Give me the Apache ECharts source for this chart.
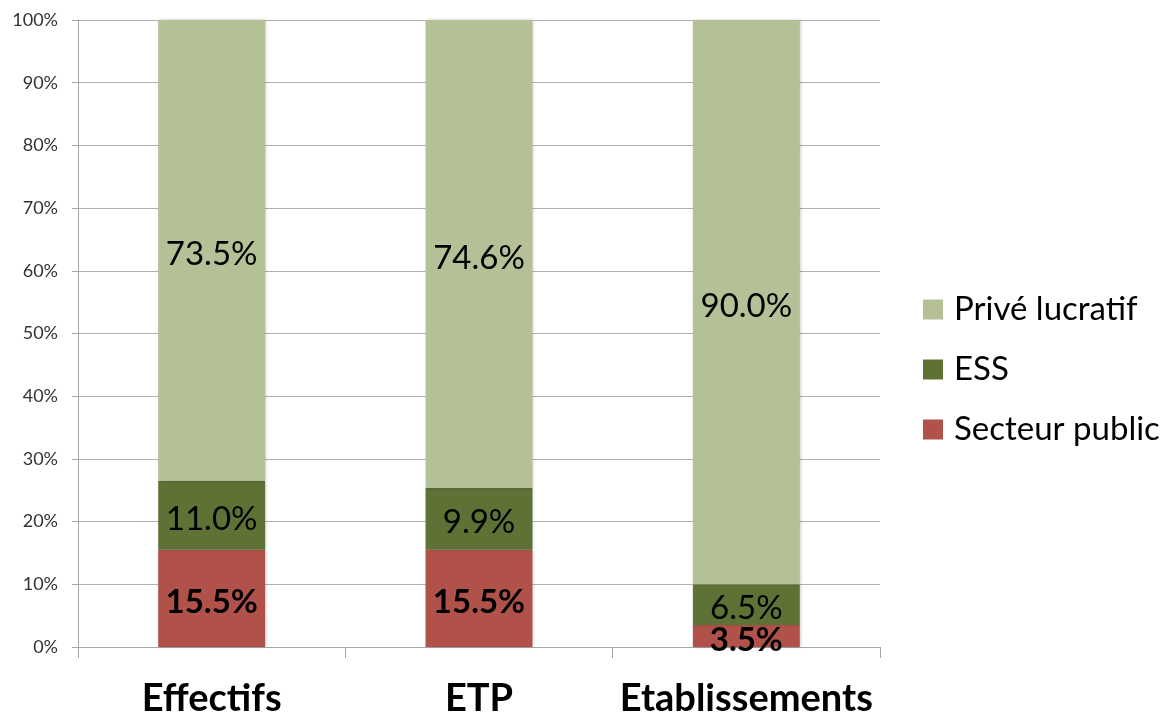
<!DOCTYPE html>
<html><head><meta charset="utf-8">
<script src="https://cdn.jsdelivr.net/npm/echarts@6/dist/echarts.min.js"></script>
<style>html,body{margin:0;padding:0;background:#fff}#c{width:1168px;height:718px}</style>
</head><body><div id="c"></div>
<script>
const categories = ['Effectifs', 'ETP', 'Etablissements'];
const secteurPublic = [15.5, 15.5, 3.5];
const ess = [11.0, 9.9, 6.5];
const priveLucratif = [73.5, 74.6, 90.0];
const yTicks = [0, 10, 20, 30, 40, 50, 60, 70, 80, 90, 100];

const FONT = 'Lato, "Open Sans", sans-serif';
const chart = echarts.init(document.getElementById('c'));
const lbl = (bold) => ({
  show: true, position: 'inside', color: '#000', fontFamily: FONT,
  fontSize: 33, fontWeight: bold ? 'bold' : 'normal', offset: [0, 4],
  formatter: p => p.value.toFixed(1) + '%'
});
const shadow = {shadowBlur: 3, shadowColor: 'rgba(0,0,0,0.25)', shadowOffsetX: 1, shadowOffsetY: 0};
chart.setOption({
  animation: false,
  textStyle: {fontFamily: FONT},
  grid: {left: 78, right: 288, top: 20, bottom: 71, containLabel: false},
  legend: {
    orient: 'vertical', left: 918, top: 288,
    itemWidth: 20, itemHeight: 20, itemGap: 27,
    icon: 'rect',
    textStyle: {fontSize: 33, color: '#000', fontFamily: FONT, padding: [0,0,0,6]},
    data: ['Privé lucratif', 'ESS', 'Secteur public']
  },
  xAxis: {
    type: 'category', data: categories, boundaryGap: true,
    axisLine: {lineStyle: {color: '#a6a6a6', width: 1}},
    axisTick: {show: true, interval: 0, length: 11, lineStyle: {color: '#a6a6a6'}},
    axisLabel: {interval: 0, hideOverlap: false, fontSize: 38, fontWeight: 'bold', color: '#000', margin: 33, fontFamily: FONT}
  },
  yAxis: {
    type: 'value', min: 0, max: 100, interval: 10,
    axisLine: {show: true, lineStyle: {color: '#a6a6a6'}},
    axisTick: {show: true, length: 6, lineStyle: {color: '#a6a6a6'}},
    splitLine: {lineStyle: {color: '#b0b0b0', width: 1}},
    axisLabel: {fontSize: 18, color: '#333', margin: 20, fontFamily: FONT,
      formatter: v => yTicks.includes(v) ? v + '%' : ''}
  },
  series: [
    {name: 'Secteur public', type: 'bar', stack: 's', data: secteurPublic, barWidth: '40%',
     itemStyle: Object.assign({color: '#B1524A'}, shadow), label: lbl(true)},
    {name: 'ESS', type: 'bar', stack: 's', data: ess, barWidth: '40%',
     itemStyle: Object.assign({color: '#5E7236'}, shadow), label: lbl(false)},
    {name: 'Privé lucratif', type: 'bar', stack: 's', data: priveLucratif, barWidth: '40%',
     itemStyle: Object.assign({color: '#B4C196'}, shadow), label: lbl(false)}
  ]
});
</script></body></html>
